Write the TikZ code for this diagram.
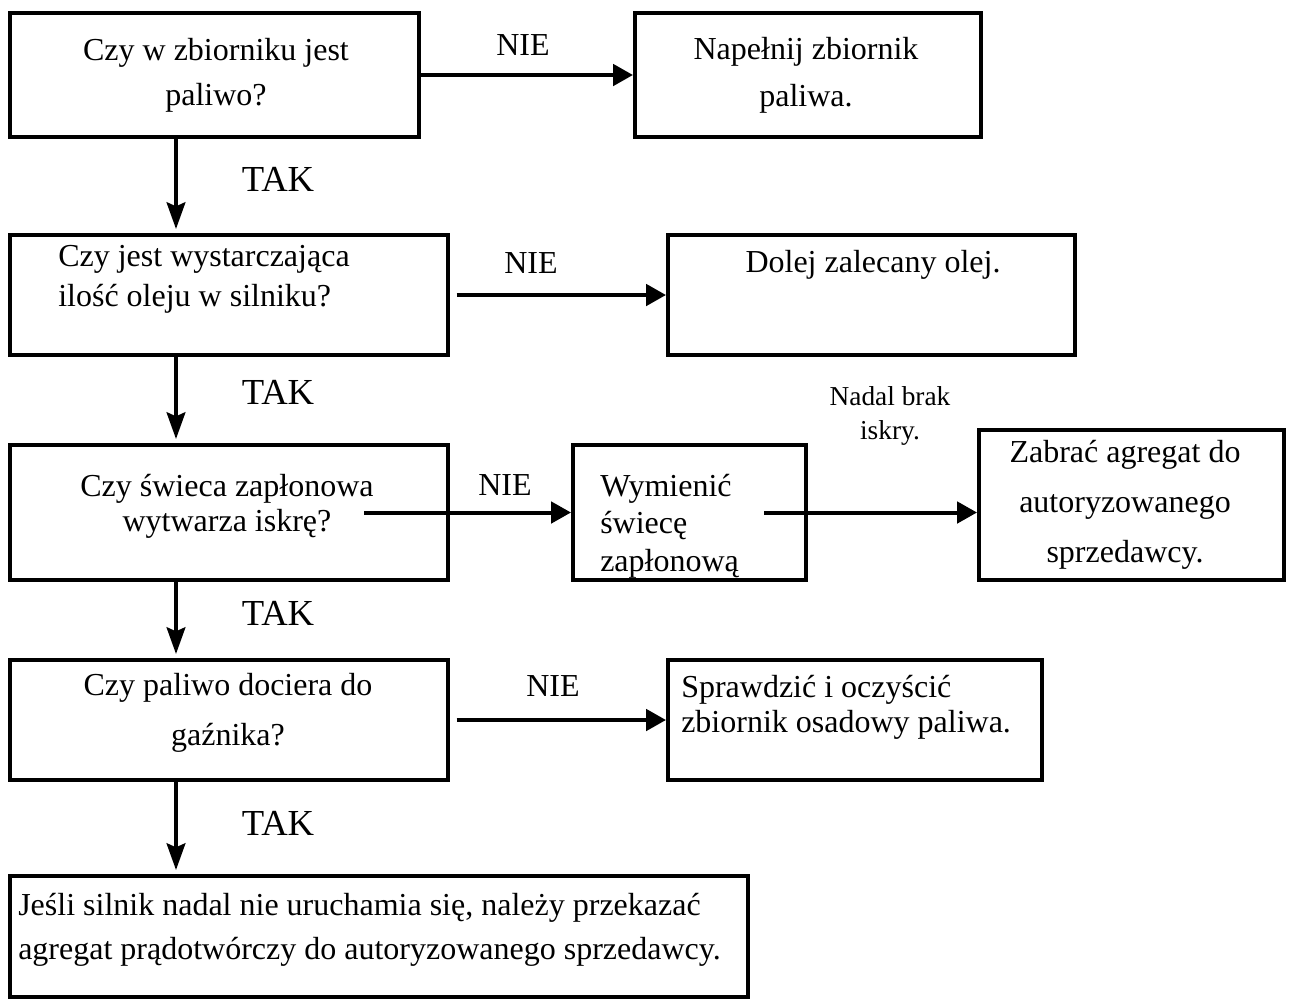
\documentclass[tikz,border=0pt]{standalone}
\usepackage{fontspec}
\setmainfont{Liberation Serif}
\usetikzlibrary{positioning}
\usetikzlibrary{arrows.meta}
\usetikzlibrary{fit}

\begin{document}
\begin{tikzpicture}[x=0.75pt,y=-0.75pt,
  box/.style={draw,line width=3pt,inner sep=0pt},
  txt/.style={inner sep=0pt,font=\fontsize{24}{#1}\selectfont},
  txt/.default=30,
  lbl/.style={inner sep=0pt,font=\fontsize{24}{28}\selectfont},
  yes/.style={inner sep=0pt,font=\fontsize{27.5}{30}\selectfont},
  harr/.style={line width=3pt,-{Triangle[length=15pt,width=16pt]}},
  varr/.style={line width=3pt,shorten >=3pt,-{Stealth[length=20pt,width=14pt,inset=3pt]}}]

  \useasboundingbox (0,0) rectangle (1290,1001);

  % Questions (left column)
  \node[box, fit={(10,13) (419,137)}] (q1) {};
  \node[box, fit={(10,235) (448,355)}] (q2) {};
  \node[box, fit={(10,445) (448,580)}] (q3) {};
  \node[box, fit={(10,660) (448,780)}] (q4) {};
  \node[box, fit={(10,876) (748,997)}] (end) {};

  % Fixes (right column)
  \node[box, fit={(635,13) (981,137)}] (f1) {};
  \node[box, fit={(668,235) (1075,355)}] (f2) {};
  \node[box, fit={(573,445) (806,580)}] (f3) {};
  \node[box, fit={(979,430) (1284,580)}] (f3b) {};
  \node[box, fit={(668,660) (1042,780)}] (f4) {};

  % Box texts
  \node[txt=33.75, align=center] (q1t) at (216,75) {Czy w zbiorniku jest\\paliwo?};
  \node[txt=35, align=center] (f1t) at (806,75) {Napełnij zbiornik\\paliwa.};
  \node[txt=30, align=left, anchor=west] (q2t) at (58,279) {Czy jest wystarczająca\\ilość oleju w silniku?};
  \node[txt] (f2t) at (873,265) {Dolej zalecany olej.};
  \node[txt=26.5, align=center] (q3t) at (227,506) {Czy świeca zapłonowa\\wytwarza iskrę?};
  \node[txt=28, align=left, anchor=west] (f3t) at (600,526) {Wymienić\\świecę\\zapłonową};
  \node[txt=37.5, align=center] (f3bt) at (1125,505) {Zabrać agregat do\\autoryzowanego\\sprzedawcy.};
  \node[txt=38, align=center] (q4t) at (228,713) {Czy paliwo dociera do\\gaźnika?};
  \node[txt=26.5, align=left, anchor=west] (f4t) at (681,707) {Sprawdzić i oczyścić\\zbiornik osadowy paliwa.};
  \node[txt=33, align=left, anchor=west] (endt) at (18,930) {Jeśli silnik nadal nie uruchamia się, należy przekazać\\agregat prądotwórczy do autoryzowanego sprzedawcy.};

  % Arrow labels
  \node[lbl] (nie1) at (523,45) {NIE};
  \node[lbl] (nie2) at (531,263) {NIE};
  \node[lbl] (nie3) at (505,485) {NIE};
  \node[lbl] (nie4) at (553,686) {NIE};
  \node[yes] (tak1) at (278,179) {TAK};
  \node[yes] (tak2) at (278,392) {TAK};
  \node[yes] (tak3) at (278,613) {TAK};
  \node[yes] (tak4) at (278,823) {TAK};
  \node[inner sep=0pt, align=center, font=\fontsize{20.5}{26}\selectfont] (still) at (890,416) {Nadal brak\\iskry.};

  % TAK spine
  \coordinate (spine) at (176,0);
  \draw[varr] (q1.south -| spine) -- (q2.north -| spine);
  \draw[varr] (q2.south -| spine) -- (q3.north -| spine);
  \draw[varr] (q3.south -| spine) -- (q4.north -| spine);
  \draw[varr] (q4.south -| spine) -- (end.north -| spine);

  % NIE branches
  \draw[harr] (q1.east) -- (f1.west);
  \draw[harr] ([xshift=5pt]q2.east) -- (f2.west);
  \draw[harr] ([xshift=-64.5pt]q3.east) -- (f3.west);
  \draw[harr] ([xshift=-33pt]f3.east) -- (f3.east -| f3b.west);
  \draw[harr] ([xshift=5pt]q4.east) -- (f4.west);
\end{tikzpicture}
\end{document}
